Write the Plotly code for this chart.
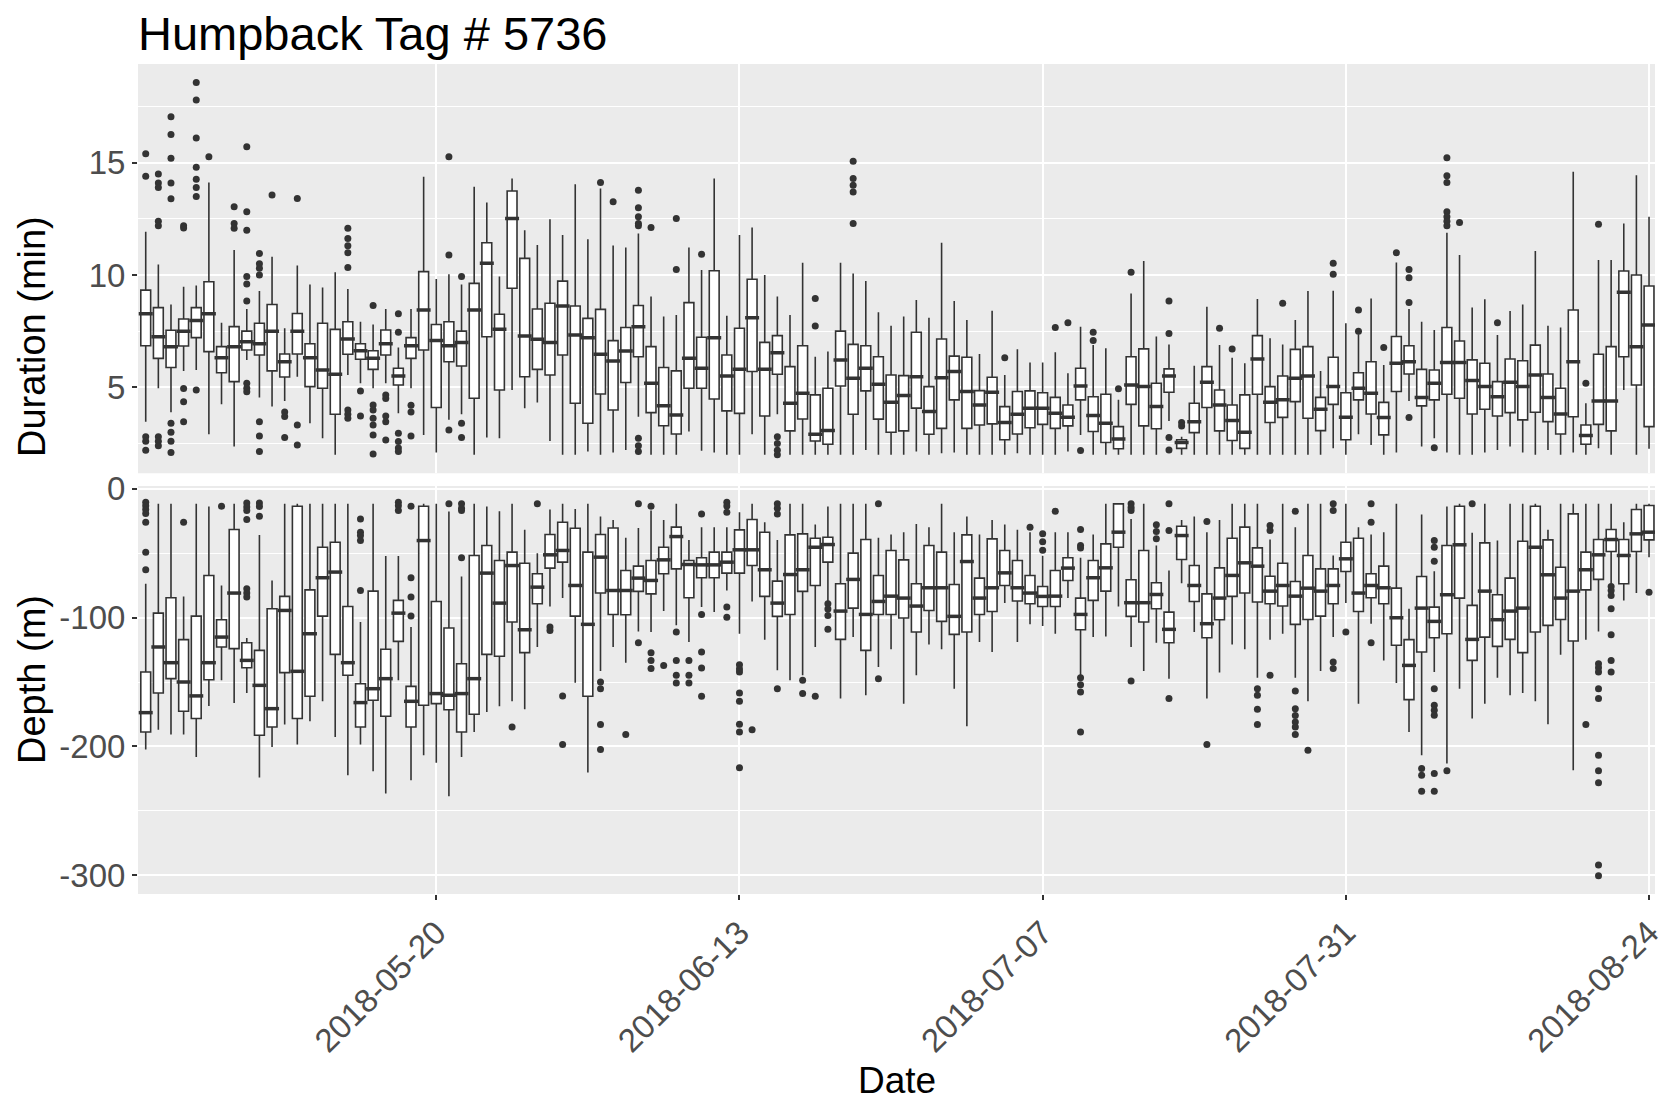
import pandas as pd
import plotly.graph_objects as go

# ---------------- data ----------------
start_date = "2018-04-27"
end_date = "2018-08-24"
x_tick_labels = ["2018-05-20", "2018-06-13", "2018-07-07", "2018-07-31", "2018-08-24"]

dur_q1 = [6.85,6.29,5.88,6.84,7.21,6.59,5.65,5.25,6.66,6.44,5.73,5.46,6.48,5.03,4.96,3.80,6.47,6.25,5.80,6.44,
          5.10,6.29,6.66,4.10,6.14,5.95,4.51,7.25,4.88,9.41,5.47,5.80,5.55,6.44,4.29,3.40,4.70,3.99,5.21,6.36,
          3.87,3.29,2.92,4.96,4.96,4.48,3.95,3.84,5.70,3.72,5.58,3.06,3.59,2.61,2.46,5.06,3.80,4.84,3.58,3.00,
          3.06,4.07,2.91,3.17,4.44,3.17,3.32,3.37,2.66,2.92,3.20,3.35,3.17,3.28,4.44,3.03,2.54,2.26,4.24,3.28,
          3.15,4.78,2.28,2.98,4.10,3.06,2.63,2.28,4.69,3.43,3.66,4.36,3.62,3.07,4.24,2.66,4.44,3.81,2.88,4.81,
          5.59,4.17,4.44,4.69,4.51,3.81,4.02,3.72,3.87,3.55,3.89,3.47,2.92,3.69,2.46,3.35,3.06,6.36,5.10,3.25]
dur_med = [8.28,7.25,6.81,7.50,7.97,8.28,6.32,6.81,7.03,6.94,7.50,6.14,7.50,6.32,5.77,5.58,7.15,6.63,6.29,6.94,
           5.50,6.85,8.44,7.08,6.85,7.00,8.44,10.52,7.58,12.52,7.28,7.14,7.00,8.62,7.33,7.21,6.47,6.17,6.62,7.70,
           5.18,4.18,3.77,6.29,5.85,7.21,5.50,5.80,8.10,5.80,6.54,4.29,4.73,2.91,3.07,6.22,5.40,5.85,5.13,4.33,
           4.63,5.47,3.92,5.43,5.70,4.81,4.21,4.78,3.43,3.80,4.07,4.07,3.84,3.66,5.06,3.74,3.40,2.70,5.10,5.03,
           4.14,5.50,2.54,3.47,5.22,4.21,3.52,3.00,6.26,4.33,4.44,5.40,5.50,4.02,5.03,3.66,4.96,4.73,3.65,6.07,
           6.14,4.55,5.18,6.10,6.10,5.30,5.03,4.58,5.22,5.03,5.55,4.55,3.81,6.14,2.85,4.39,4.39,9.23,6.81,7.77]
dur_q3 = [9.33,8.55,7.54,8.04,8.55,9.70,6.81,7.70,7.50,7.85,8.69,6.48,8.29,6.94,7.85,7.58,7.92,6.94,6.63,7.55,
          5.85,7.21,10.15,7.80,7.92,7.50,9.63,11.44,8.25,13.74,10.74,8.49,8.74,9.73,8.62,8.07,8.47,7.08,7.66,8.64,
          6.81,5.88,5.73,8.77,7.23,10.19,6.44,7.63,9.81,7.00,7.30,5.92,6.85,4.66,4.96,7.50,6.91,6.85,6.36,5.55,
          5.52,7.45,5.03,7.15,6.39,6.34,4.85,5.45,4.14,4.81,4.84,4.76,4.55,4.21,5.85,4.58,4.69,3.25,6.36,6.71,
          5.18,5.82,2.66,4.29,5.92,4.88,4.21,4.66,7.30,5.03,5.50,6.69,6.81,4.55,6.34,4.76,5.65,6.14,4.33,7.26,
          6.85,5.80,5.77,7.66,7.06,6.22,6.07,5.25,6.26,6.18,6.88,5.59,4.96,8.44,3.32,6.47,6.81,10.18,10.00,9.51]
dur_lo = [3.47,4.96,3.89,5.73,5.77,2.91,4.24,2.36,6.22,4.54,4.14,4.39,5.47,3.40,2.73,2.00,5.55,5.18,4.96,5.18,
          3.84,4.96,2.88,2.10,3.55,3.80,2.00,2.76,2.73,4.88,4.07,4.32,2.61,2.00,2.00,2.14,2.00,2.10,2.21,3.69,
          2.00,2.00,2.00,3.03,2.17,2.10,2.00,2.00,2.91,2.00,3.80,2.00,2.00,2.00,2.00,2.00,2.00,2.21,2.00,2.00,
          2.00,2.14,2.00,2.06,2.10,2.00,2.00,2.00,2.00,2.06,2.00,2.00,2.00,2.14,2.88,2.00,2.00,2.00,2.00,2.00,
          2.00,3.50,2.00,2.00,2.00,2.00,2.00,2.00,2.00,2.00,2.00,2.00,2.00,2.00,2.28,2.00,2.91,2.43,2.00,2.10,
          4.39,2.36,2.73,2.10,2.00,2.00,2.10,2.21,2.36,2.10,2.00,2.21,2.00,2.10,2.00,2.28,2.00,4.88,2.00,2.26]
dur_hi = [11.93,10.47,8.69,9.48,9.53,14.12,7.88,11.11,8.49,9.29,10.82,7.63,10.42,9.58,9.45,10.12,9.38,7.92,7.80,8.49,
          6.77,8.49,14.38,9.82,10.03,9.58,13.93,13.23,9.93,14.30,12.00,11.34,12.48,11.78,14.04,11.59,13.86,11.31,11.23,11.85,
          9.04,8.15,8.22,11.23,10.22,14.30,8.19,11.78,12.12,10.00,9.04,8.22,10.55,6.36,6.59,10.55,10.07,9.73,8.34,7.74,
          8.15,8.89,8.10,11.44,8.84,8.00,6.48,8.41,5.55,6.69,6.10,6.10,6.56,5.62,7.70,6.88,6.74,4.44,9.18,10.62,
          7.26,6.91,2.80,5.96,8.59,6.88,6.32,6.07,8.93,7.18,6.91,8.00,9.29,5.73,9.30,7.85,7.36,8.96,5.99,10.56,
          8.49,7.92,7.55,11.88,10.89,8.55,8.92,7.33,8.40,8.69,11.07,7.74,7.66,14.60,4.29,10.67,10.67,12.30,14.45,12.60]
dur_outliers = {
    0: [15.4, 14.4, 2.8, 2.6, 2.2], 1: [14.5, 14.1, 13.9, 12.4, 12.2, 2.8, 2.6, 2.4],
    2: [17.05, 16.26, 15.2, 14.1, 13.4, 3.4, 3.0, 2.6, 2.1], 3: [12.2, 12.1, 4.95, 4.36, 3.47],
    4: [18.58, 17.8, 16.1, 14.8, 14.27, 13.9, 13.5, 4.88], 5: [15.27], 7: [13.04, 12.3, 12.08],
    8: [15.71, 12.82, 12.0, 9.93, 9.6, 8.84, 5.18, 4.96, 4.8], 9: [10.96, 10.5, 10.3, 10.0, 3.47, 2.83, 2.14],
    10: [13.56], 11: [3.9, 3.7, 2.76], 12: [13.41, 3.32, 2.43],
    16: [12.08, 11.63, 11.3, 10.99, 10.34, 3.99, 3.8, 3.62], 17: [4.84, 3.72],
    18: [8.64, 4.21, 3.99, 3.62, 3.32, 2.88, 2.03], 19: [4.66, 4.5, 3.72, 3.47, 2.65],
    20: [8.28, 7.45, 2.95, 2.58, 2.3, 2.14], 21: [4.2, 3.9, 2.83], 24: [15.27, 10.89, 3.1],
    25: [9.93, 3.4, 2.76], 36: [14.12], 37: [13.26], 39: [13.78, 13.0, 12.6, 12.3, 12.2, 2.73, 2.4, 2.14],
    40: [12.12], 42: [12.52, 10.25], 44: [10.93], 50: [2.8, 2.5, 2.2, 2.0], 53: [8.96, 7.73],
    56: [15.07, 14.3, 14.0, 13.7, 12.3], 68: [6.32], 72: [7.66], 73: [7.88], 74: [2.18], 75: [7.45, 7.08],
    77: [4.93], 78: [10.12], 81: [8.84, 7.4, 2.76, 2.21], 82: [3.43, 3.28], 85: [7.63], 86: [6.71],
    90: [8.74], 94: [10.52, 10.04], 96: [8.44, 7.5], 98: [6.77], 99: [10.99], 100: [10.25, 9.88, 8.78, 3.65],
    102: [2.31], 103: [15.22, 14.42, 14.12, 12.82, 12.6, 12.4, 12.2], 104: [12.34], 107: [7.88],
    114: [5.18], 115: [12.26],
}

dep_q1 = [-188.8,-158.5,-147.4,-172.7,-178.4,-148.2,-122.8,-124.1,-138.9,-191.4,-184.9,-142.7,-178.4,-161.1,-98.8,-128.5,-144.8,-184.9,-164.2,-176.6,
          -118.4,-184.9,-168.1,-166.8,-171.5,-188.8,-175.1,-128.5,-130.0,-103.4,-127.2,-89.2,-61.5,-56.9,-98.8,-161.1,-80.9,-97.5,-97.7,-79.6,
          -81.5,-65.9,-62.1,-84.6,-69.0,-69.0,-65.4,-65.4,-59.5,-83.5,-99.0,-97.5,-79.6,-75.0,-56.9,-116.9,-92.6,-125.4,-97.5,-97.5,
          -100.3,-111.2,-94.4,-102.9,-113.0,-111.2,-97.5,-95.2,-75.0,-87.1,-89.2,-91.3,-91.3,-71.1,-109.4,-86.6,-79.4,-45.3,-99.0,-103.4,
          -93.1,-119.5,-54.8,-87.4,-115.6,-101.6,-83.5,-80.9,-87.9,-89.2,-91.0,-105.2,-101.4,-98.8,-89.2,-64.1,-95.2,-84.6,-89.2,-121.5,
          -163.7,-126.7,-115.6,-112.5,-84.8,-133.2,-115.1,-122.3,-116.9,-127.2,-111.2,-106.0,-101.4,-118.2,-78.4,-70.3,-48.6,-73.7,-48.6,-39.6]
dep_med = [-173.8,-122.8,-135.0,-150.0,-160.8,-135.0,-115.1,-80.9,-133.2,-152.6,-170.7,-94.4,-141.7,-112.5,-69.0,-64.6,-135.0,-166.0,-155.2,-147.4,
           -96.5,-165.0,-40.1,-159.0,-160.3,-159.0,-147.4,-65.4,-88.7,-59.5,-109.4,-76.3,-51.2,-47.8,-75.0,-105.2,-53.0,-78.9,-78.9,-69.3,
           -71.1,-55.1,-37.0,-58.7,-59.0,-59.0,-56.9,-47.3,-47.3,-62.8,-88.7,-66.5,-62.8,-45.3,-43.2,-94.9,-70.3,-97.5,-87.4,-83.3,
           -84.8,-91.0,-76.8,-76.8,-99.0,-56.4,-84.8,-76.8,-65.2,-76.8,-80.9,-83.5,-83.3,-61.5,-97.5,-69.0,-61.3,-33.6,-88.4,-88.4,
           -82.0,-109.1,-36.2,-75.0,-104.7,-84.8,-67.2,-57.4,-60.0,-79.4,-75.0,-83.3,-77.1,-79.4,-75.0,-54.3,-80.9,-75.0,-76.8,-100.1,
           -137.1,-92.6,-102.9,-82.2,-43.4,-116.9,-79.4,-101.6,-94.9,-92.6,-45.3,-66.7,-84.8,-79.4,-62.8,-51.2,-39.3,-51.7,-34.9,-33.6]
dep_q3 = [-142.2,-96.5,-84.6,-117.1,-98.8,-67.2,-101.6,-31.5,-119.5,-125.4,-93.1,-83.5,-13.4,-78.4,-45.3,-41.4,-91.3,-151.3,-79.4,-124.6,
          -86.6,-153.4,-13.4,-87.4,-108.1,-135.8,-51.7,-44.0,-55.6,-49.1,-57.7,-65.9,-35.4,-25.9,-30.5,-49.1,-35.4,-30.3,-63.4,-60.0,
          -55.6,-45.3,-29.7,-55.6,-53.5,-49.1,-49.1,-31.8,-23.8,-33.6,-71.6,-35.7,-34.9,-38.3,-37.5,-73.7,-49.9,-39.3,-67.2,-47.8,
          -55.1,-73.7,-44.0,-49.1,-74.2,-35.7,-69.3,-38.8,-47.8,-55.6,-67.2,-75.8,-63.4,-53.5,-84.8,-55.6,-42.7,-11.6,-70.6,-47.8,
          -72.9,-95.7,-29.0,-59.5,-81.5,-61.3,-38.3,-29.7,-45.8,-67.8,-57.7,-71.9,-51.7,-62.1,-62.1,-41.4,-38.3,-65.9,-60.0,-77.1,
          -117.1,-68.0,-91.8,-44.0,-13.4,-90.5,-41.9,-82.2,-69.3,-40.6,-13.4,-39.6,-60.8,-19.4,-49.1,-39.3,-31.5,-39.3,-16.0,-12.9]
dep_lo = [-202.5,-187.0,-190.8,-190.8,-208.2,-168.6,-148.7,-166.3,-158.5,-224.2,-200.4,-183.1,-198.6,-180.5,-165.0,-192.7,-222.4,-198.6,-219.3,-236.6,
          -148.7,-226.3,-206.9,-212.8,-238.7,-208.2,-188.8,-173.3,-168.9,-165.0,-171.2,-122.8,-91.3,-84.8,-150.5,-220.3,-141.5,-122.8,-135.0,-110.7,
          -111.2,-94.9,-106.0,-119.0,-91.8,-95.7,-78.9,-112.5,-87.4,-117.1,-140.9,-148.7,-144.8,-122.8,-87.9,-162.9,-115.1,-160.3,-138.3,-124.6,
          -166.8,-144.8,-120.8,-124.6,-155.2,-184.4,-119.0,-126.7,-88.7,-119.0,-105.2,-106.5,-112.5,-84.8,-145.3,-115.1,-114.6,-91.3,-122.8,-141.5,
          -119.5,-147.4,-73.2,-111.2,-162.9,-142.7,-120.8,-124.6,-146.6,-117.1,-112.5,-146.6,-165.0,-141.5,-115.1,-88.7,-166.8,-104.7,-133.2,-150.8,
          -188.8,-206.9,-142.2,-213.3,-155.2,-178.4,-166.8,-146.6,-160.3,-158.5,-165.0,-182.8,-128.8,-218.5,-117.1,-110.7,-73.7,-86.6,-80.9,-53.0]
dep_hi = [-73.7,-11.6,-11.6,-83.5,-11.6,-13.7,-75.0,-11.6,-115.9,-35.7,-71.1,-11.6,-11.6,-11.6,-11.6,-11.6,-11.6,-103.4,-11.6,-52.2,
          -52.2,-107.3,-11.6,-11.6,-17.6,-68.0,-11.6,-13.7,-17.3,-11.6,-31.8,-49.9,-16.0,-11.6,-15.5,-11.6,-21.5,-24.1,-38.0,-30.3,
          -16.8,-24.1,-11.6,-39.6,-29.7,-29.7,-29.7,-18.1,-11.6,-25.9,-39.6,-11.6,-11.6,-27.7,-13.7,-11.6,-11.6,-11.6,-38.0,-35.4,
          -33.6,-27.2,-29.7,-11.6,-33.6,-21.5,-35.4,-24.1,-27.7,-31.8,-33.6,-52.0,-33.6,-33.6,-53.5,-35.4,-11.6,-11.6,-23.3,-11.6,
          -44.0,-63.4,-24.1,-21.5,-33.6,-24.1,-11.6,-11.6,-11.6,-39.3,-11.6,-29.7,-11.6,-11.6,-51.7,-11.6,-29.7,-35.4,-33.6,-11.6,
          -93.1,-19.9,-63.9,-13.7,-11.6,-34.1,-11.6,-40.1,-11.6,-11.6,-11.6,-31.8,-11.6,-11.6,-11.6,-11.6,-11.6,-25.9,-11.6,-11.6]
dep_outliers = {
    0: [-10.3, -13.0, -16.0, -19.0, -25.9, -49.1, -62.8], 3: [-25.9], 6: [-13.4],
    8: [-10.9, -14.0, -16.8, -23.8, -77.6, -80.9, -84.0], 9: [-10.9, -13.7, -21.2],
    17: [-23.3, -33.6, -36.2, -40.1, -78.9], 20: [-10.3, -13.0, -16.8], 21: [-13.4, -69.0, -84.0, -98.8],
    24: [-11.6], 25: [-11.6, -15.0, -16.8, -53.5], 29: [-184.9], 31: [-11.6], 32: [-107.3, -109.9],
    33: [-160.8, -198.6], 36: [-150.0, -155.2, -183.1, -202.5], 38: [-190.8], 39: [-11.6, -119.5],
    40: [-13.4, -127.2, -133.2, -139.6], 41: [-137.1], 42: [-111.2, -133.2, -144.8, -150.8],
    43: [-133.2, -144.8, -150.8], 44: [-19.4, -97.5, -126.7, -139.1, -161.1],
    46: [-10.3, -13.2, -18.1, -91.8, -99.6],
    47: [-136.5, -139.9, -142.2, -158.5, -165.0, -182.8, -188.8, -216.7], 48: [-187.0],
    50: [-11.6, -15.0, -19.4, -155.2], 52: [-148.7, -159.0], 53: [-161.1], 54: [-89.2, -93.3, -98.3, -109.1],
    58: [-11.6, -147.4], 70: [-29.7], 71: [-34.9, -41.1, -47.6], 72: [-17.3],
    74: [-31.5, -44.0, -45.8, -146.6, -152.1, -157.7, -188.8], 78: [-11.6, -14.5, -16.8, -149.2],
    80: [-27.9, -33.0, -38.8], 81: [-11.6, -32.3, -162.9], 84: [-25.3, -198.6],
    88: [-155.2, -160.3, -171.2, -183.1], 89: [-28.4, -32.3, -144.8],
    91: [-17.3, -157.0, -170.7, -176.0, -181.0, -184.9, -190.8], 92: [-203.0],
    94: [-11.6, -16.8, -134.5, -139.6], 95: [-111.2], 97: [-11.6, -25.9, -119.5],
    101: [-217.2, -222.4, -234.8],
    102: [-40.1, -45.3, -56.1, -155.2, -168.1, -172.0, -175.8, -221.1, -234.8], 103: [-219.0], 105: [-11.6],
    114: [-183.1],
    115: [-135.8, -139.0, -142.2, -155.2, -162.9, -206.9, -219.0, -228.3, -292.2, -300.5],
    116: [-75.8, -79.0, -82.8, -93.1, -113.3, -133.2, -142.2], 119: [-80.2],
}

# ---------------- build figure ----------------
dates = pd.date_range(start_date, end_date, freq="D")

def flat(outl):
    xs, ys = [], []
    for i, vals in outl.items():
        for v in vals:
            xs.append(dates[i])
            ys.append(v)
    return xs, ys

INK = "#333333"
DAY_MS = 86400000
box_w = 0.78 * DAY_MS

fig = go.Figure()

def add_panel(q1, med, q3, lo, hi, outl, xa, ya):
    fig.add_trace(go.Box(
        x=dates, q1=q1, median=med, q3=q3, lowerfence=lo, upperfence=hi,
        xaxis=xa, yaxis=ya, fillcolor="white",
        line=dict(color=INK, width=1.6), whiskerwidth=0, width=box_w,
        boxpoints=False, showlegend=False, hoverinfo="skip"))
    fig.add_trace(go.Scatter(
        x=dates, y=med, mode="markers", xaxis=xa, yaxis=ya,
        marker=dict(symbol="line-ew", size=10, line=dict(width=3.5, color=INK)),
        showlegend=False, hoverinfo="skip"))
    ox, oy = flat(outl)
    fig.add_trace(go.Scatter(
        x=ox, y=oy, mode="markers", xaxis=xa, yaxis=ya,
        marker=dict(size=7, color=INK), showlegend=False, hoverinfo="skip"))

add_panel(dur_q1, dur_med, dur_q3, dur_lo, dur_hi, dur_outliers, "x", "y")
add_panel(dep_q1, dep_med, dep_q3, dep_lo, dep_hi, dep_outliers, "x2", "y2")

FONT = "Liberation Sans, Arial, sans-serif"
tick_font = dict(family=FONT, size=33, color="#4D4D4D")
x_range = ["2018-04-26 09:20", "2018-08-24 11:20"]

common_x = dict(type="date", range=x_range, tickvals=x_tick_labels, ticktext=x_tick_labels,
                showgrid=True, gridcolor="white", gridwidth=2.2, zeroline=False, showline=False)
common_y = dict(showgrid=True, gridcolor="white", gridwidth=2.2, zeroline=False, showline=False,
                ticks="outside", ticklen=5, tickwidth=1.5, tickcolor=INK, tickfont=tick_font)

W, H = 1671, 1105
ML, MR, MT, MB = 138, 16, 64, 211
plot_h = H - MT - MB
top_dom = [0.5069, 1.0]
bot_dom = [0.0, 0.4916]

def ypaper(px):
    return (H - MB - px) / plot_h

fig.update_layout(
    width=W, height=H, autosize=False,
    margin=dict(l=ML, r=MR, t=MT, b=MB),
    paper_bgcolor="white", plot_bgcolor="#EBEBEB",
    font=dict(family=FONT, color="black"),
    title=dict(text="Humpback Tag # 5736", x=138 / W, xanchor="left",
               y=1 - 34 / H, yanchor="middle", font=dict(family=FONT, size=47, color="black")),
    xaxis=dict(**common_x, domain=[0, 1], anchor="y", showticklabels=False, ticks=""),
    xaxis2=dict(**common_x, domain=[0, 1], anchor="y2", matches="x", ticks="outside", ticklen=5,
                tickwidth=1.5, tickcolor=INK, tickangle=-45, tickfont=tick_font,
                ticklabeloverflow="allow", automargin=False),
    yaxis=dict(**common_y, domain=top_dom, anchor="x", range=[1.17, 19.4], tickvals=[5, 10, 15],
               minor=dict(tickvals=[2.5, 7.5, 12.5, 17.5], showgrid=True, gridcolor="white",
                          gridwidth=1.1, ticks="")),
    yaxis2=dict(**common_y, domain=bot_dom, anchor="x2", range=[-314.7, 2.3],
                tickvals=[-300, -200, -100, 0], ticktext=["-300", "-200", "-100", "0"],
                minor=dict(tickvals=[-250, -150, -50], showgrid=True, gridcolor="white",
                           gridwidth=1.1, ticks="")),
    annotations=[
        dict(text="Duration (min)", x=-0.0699, y=ypaper(336), xref="paper", yref="paper",
             textangle=-90, showarrow=False, xanchor="center", yanchor="middle",
             font=dict(family=FONT, size=38, color="black")),
        dict(text="Depth (m)", x=-0.0699, y=ypaper(679), xref="paper", yref="paper",
             textangle=-90, showarrow=False, xanchor="center", yanchor="middle",
             font=dict(family=FONT, size=38, color="black")),
        dict(text="Date", x=0.5, y=ypaper(1080), xref="paper", yref="paper", showarrow=False,
             xanchor="center", yanchor="middle", font=dict(family=FONT, size=37, color="black")),
    ],
)

# remove the default page margin so the figure fills the window exactly; hide the modebar
fig.write_html("out.html", config={"displayModeBar": False},
               post_script="document.body.style.margin='0px';")
